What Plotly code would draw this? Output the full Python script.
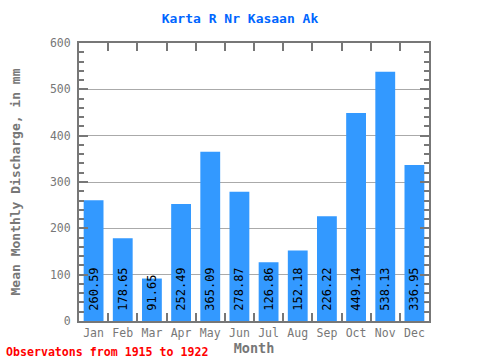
import plotly.graph_objects as go

months = ["Jan", "Feb", "Mar", "Apr", "May", "Jun", "Jul", "Aug", "Sep", "Oct", "Nov", "Dec"]
discharge = [260.59, 178.65, 91.65, 252.49, 365.09, 278.87, 126.86, 152.18, 226.22, 449.14, 538.13, 336.95]
labels = ["\u00a0" + f"{v:.2f}" for v in discharge]

FONT = "DejaVu Sans Mono"
GRAY = "#777777"

fig = go.Figure(go.Bar(
    x=months, y=discharge, text=labels,
    textposition="inside", insidetextanchor="start", textangle=-90,
    constraintext="none", cliponaxis=False,
    textfont=dict(family=FONT, size=12, color="black"),
    marker=dict(color="#3399ff", line=dict(width=0)),
    width=0.68,
))

fig.update_layout(
    width=480, height=360,
    margin=dict(l=79, r=51, t=43, b=39, autoexpand=False),
    paper_bgcolor="white", plot_bgcolor="white",
    title=dict(text="<b>Karta R Nr Kasaan Ak</b>", x=0.5, xanchor="center", y=1 - 18/360, yanchor="middle",
               font=dict(family=FONT, size=13, color="#0066ff")),
    showlegend=False,
)

fig.update_xaxes(
    type="category", range=[-0.5, 11.5], automargin=False,
    showline=True, linecolor=GRAY, linewidth=2, mirror="allticks",
    ticks="inside", tickson="boundaries", ticklen=8, tickwidth=2, tickcolor=GRAY,
    tickfont=dict(family=FONT, size=11.5, color=GRAY), tickangle=0,
    title=dict(text="<b>Month</b>", font=dict(family=FONT, size=13.5, color=GRAY), standoff=4),
    showgrid=False,
)

fig.update_yaxes(
    range=[0, 600], tickvals=[0, 100, 200, 300, 400, 500, 600], automargin=False,
    showline=True, linecolor=GRAY, linewidth=2, mirror="allticks",
    ticks="inside", ticklen=9, tickwidth=2, tickcolor=GRAY,
    minor=dict(dtick=20, ticks="inside", ticklen=5, tickwidth=2, tickcolor=GRAY, showgrid=False),
    tickfont=dict(family=FONT, size=11.5, color=GRAY), ticklabelstandoff=4,
    showgrid=True, gridcolor="#aaaaaa", gridwidth=1,
    layer="above traces", zeroline=False,
    title=dict(text="<b>Mean Monthly Discharge, in mm</b>", font=dict(family=FONT, size=13, color=GRAY), standoff=26),
)

fig.add_annotation(
    text="<b>Observatons from 1915 to 1922</b>", xref="paper", yref="paper",
    x=-75/350, y=-31/279, xanchor="left", yanchor="middle", showarrow=False,
    font=dict(family=FONT, size=11.6, color="red"),
)

fig.write_html("out.html", config={"displayModeBar": False},
               post_script="document.body.style.margin='0';document.body.style.overflow='hidden';")
